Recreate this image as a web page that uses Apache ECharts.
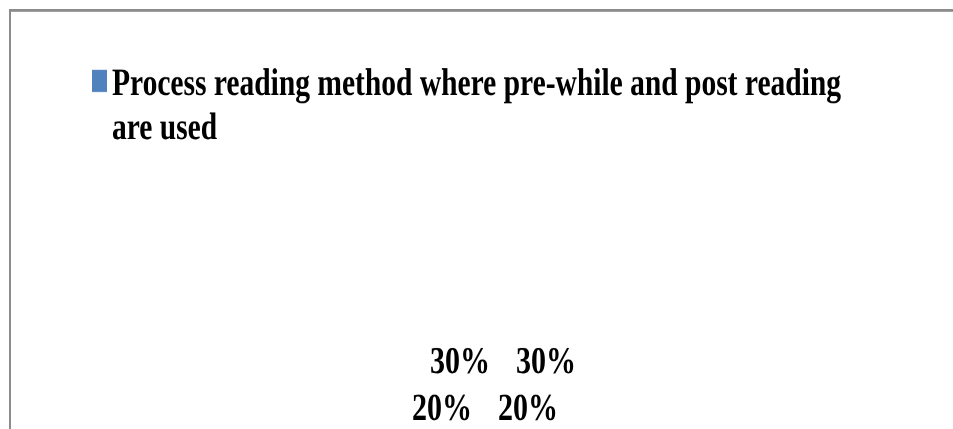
<!DOCTYPE html>
<html>
<head>
<meta charset="utf-8">
<script src="https://cdn.jsdelivr.net/npm/echarts@6/dist/echarts.min.js"></script>
<style>
  html, body { margin: 0; padding: 0; background: #fff; }
  #frame { width: 953px; height: 429px; overflow: hidden; position: relative; }
  /* the chart is laid out at a reduced height and stretched vertically,
     which gives the tall, narrow lettering of the original slide */
  #chart { width: 953px; height: 420px; transform: scaleY(1.3); transform-origin: 0 0; }
</style>
</head>
<body>
<div id="frame"><div id="chart"></div></div>
<script>
// Data
const groups = ['Group 1', 'Group 2'];
const seriesNames = [
  'Process reading method where pre-while and post reading are used',
  'Second measure'
];
const lowerValues = [20, 20];   // percent
const upperValues = [30, 30];   // percent
const legendColor = '#4f81bd';

const chart = echarts.init(document.getElementById('chart'), null, {
  renderer: 'canvas',
  devicePixelRatio: 2
});

const labelStyle = {
  show: true,
  position: 'top',
  distance: 5,
  formatter: '{c}%',
  fontFamily: 'Liberation Serif',
  fontWeight: 'bold',
  fontSize: 30,
  color: '#000'
};

// legend key: a square sitting level with the first line of a two-line name
const legendKey = 'path://M0,0M0,5.5L15,5.5L15,22.5L0,22.5ZM15,68';

chart.setOption({
  animation: false,
  backgroundColor: '#fff',
  graphic: [{
    type: 'rect',
    shape: { x: 10, y: 8, width: 1000, height: 500 },
    style: { fill: 'none', stroke: '#8c8c8c', lineWidth: 2 },
    silent: true,
    z: 0
  }],
  legend: {
    left: 92,
    top: 48.3,
    padding: 0,
    itemWidth: 15,
    itemHeight: 68,
    icon: legendKey,
    data: [{ name: seriesNames[0], itemStyle: { color: legendColor, opacity: 1 } }],
    textStyle: {
      fontFamily: 'Liberation Serif',
      fontWeight: 'bold',
      fontSize: 29.5,
      color: '#000',
      lineHeight: 34,
      width: 760,
      overflow: 'break'
    }
  },
  grid: { left: 408, top: 47, width: 172, height: 360 },
  xAxis: { type: 'category', data: groups, show: false },
  yAxis: { type: 'value', min: 0, max: 100, show: false },
  series: [
    {
      name: seriesNames[0],
      type: 'bar',
      data: lowerValues,
      barWidth: 18,
      barGap: '0%',
      itemStyle: { color: 'rgba(0,0,0,0)' },
      label: labelStyle
    },
    {
      name: seriesNames[1],
      type: 'bar',
      data: upperValues,
      barWidth: 18,
      barGap: '0%',
      itemStyle: { color: 'rgba(0,0,0,0)' },
      label: labelStyle
    }
  ]
});
</script>
</body>
</html>
